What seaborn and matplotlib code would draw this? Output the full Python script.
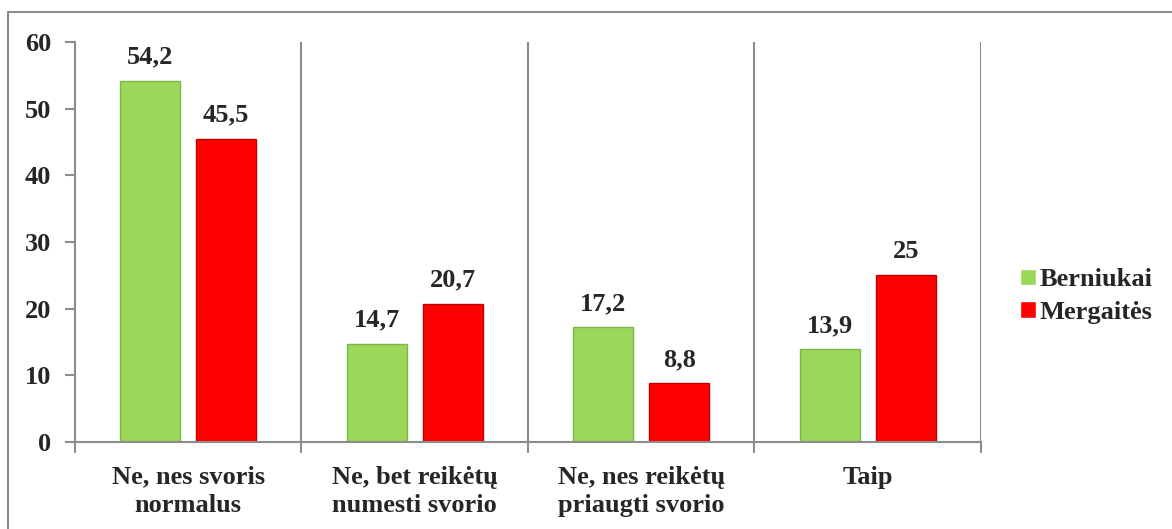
import pandas as pd
import seaborn as sns
import matplotlib.pyplot as plt
from matplotlib.patches import Rectangle

# Chart data
categories = ['Ne, nes svoris\nnormalus', 'Ne, bet reikėtų\nnumesti svorio',
              'Ne, nes reikėtų\npriaugti svorio', 'Taip']
berniukai = [54.2, 14.7, 17.2, 13.9]
mergaites = [45.5, 20.7, 8.8, 25]
series_names = ['Berniukai', 'Mergaitės']
label_text = [['54,2', '14,7', '17,2', '13,9'], ['45,5', '20,7', '8,8', '25']]

df = pd.DataFrame({
    'category': categories * 2,
    'value': berniukai + mergaites,
    'series': [series_names[0]] * 4 + [series_names[1]] * 4,
})

sns.set_style('white')
plt.rcParams['font.family'] = ['Liberation Serif', 'DejaVu Serif']
plt.rcParams['font.weight'] = 'bold'
FS = 19

fig = plt.figure(figsize=(11.72, 5.29), dpi=100)
ax = fig.add_axes([0.064, 0.1645, 0.773, 0.756])

palette = {'Berniukai': '#9BD85A', 'Mergaitės': '#FF0000'}
sns.barplot(data=df, x='category', y='value', hue='series', palette=palette,
            width=0.67, gap=0.21, ax=ax, errorbar=None, saturation=1)

edge = {'Berniukai': '#7DB548', 'Mergaitės': '#C00000'}
for cont, name, labels in zip(ax.containers, series_names, label_text):
    for bar in cont:
        bar.set_edgecolor(edge[name])
        bar.set_linewidth(1.0)
    ax.bar_label(cont, labels=labels, padding=9, fontsize=FS, fontweight='bold')

ax.set_ylim(0, 60)
ax.set_xlim(-0.5, 3.5)
ax.set_yticks(range(0, 61, 10))
ax.set_xlabel('')
ax.set_ylabel('')

# separators between categories
for xb in [0.5, 1.5, 2.5, 3.5]:
    ax.axvline(xb, color='#8C8C8C', lw=1.5, zorder=0)

for s in ['top', 'right']:
    ax.spines[s].set_visible(False)
for s in ['left', 'bottom']:
    ax.spines[s].set_color('#8C8C8C')
    ax.spines[s].set_linewidth(1.5)

ax.tick_params(axis='y', length=7, width=1.5, color='#8C8C8C', direction='out',
               labelsize=FS, pad=10, left=True)
ax.tick_params(axis='x', which='major', length=0, labelsize=FS, pad=17)
ax.set_xticks([-0.5, 0.5, 1.5, 2.5, 3.5], minor=True)
ax.tick_params(axis='x', which='minor', length=8, width=1.5, color='#8C8C8C',
               direction='out', bottom=True)
for t in ax.get_xticklabels():
    t.set_fontweight('bold')
    t.set_linespacing(1.3)
for t in ax.get_yticklabels():
    t.set_fontweight('bold')

leg = ax.legend(loc='center left', bbox_to_anchor=(1.043, 0.365), frameon=False,
                fontsize=FS, handlelength=0.6, handleheight=0.6,
                handletextpad=0.15, labelspacing=0.35, borderpad=0,
                borderaxespad=0)
for t in leg.get_texts():
    t.set_fontweight('bold')

# outer chart border
fig.patches.append(Rectangle((8 / 1172, -0.05), 1.1, (529 - 12) / 529 + 0.05,
                             transform=fig.transFigure, fill=False,
                             edgecolor='#8C8C8C', lw=1.5))

fig.savefig('out.png', dpi=100)
